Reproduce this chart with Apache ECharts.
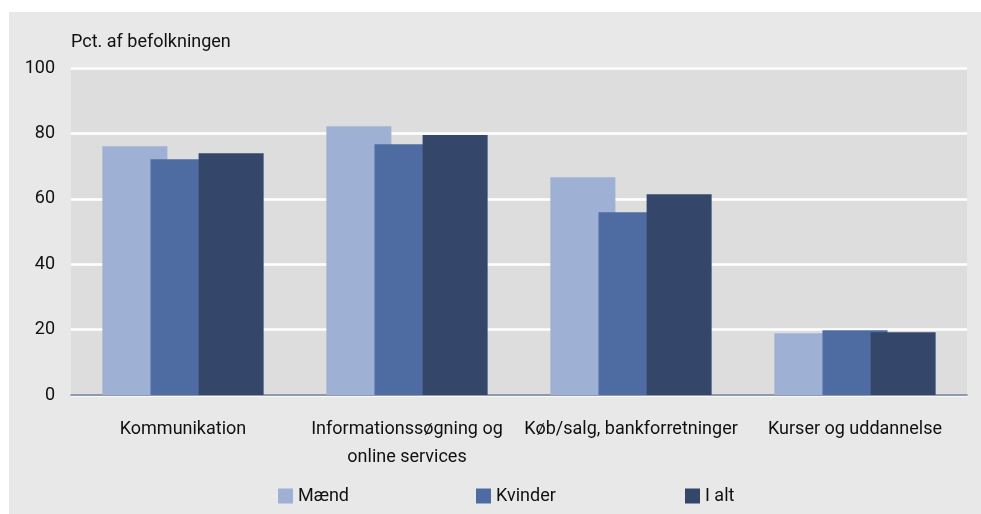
<!DOCTYPE html>
<html>
<head>
	<meta charset="UTF-8">
	<title>Pct. af befolkningen</title>
	<script src="https://cdn.jsdelivr.net/npm/echarts@6/dist/echarts.min.js"></script>
	<style>
		html, body {
			margin: 0;
			padding: 0;
			background: #ffffff;
		}
		#main {
			width: 981px;
			height: 514px;
		}
	</style>
</head>
<body>
<div id="main"></div>

<script>
	// data
	var categories = ['Kommunikation', 'Informationssøgning og\nonline services', 'Køb/salg, bankforretninger', 'Kurser og uddannelse'];
	var seriesNames = ['Mænd', 'Kvinder', 'I alt'];
	var maend = [76.1, 82.2, 66.6, 18.9];
	var kvinder = [72.1, 76.7, 55.9, 19.8];
	var iAlt = [73.9, 79.5, 61.4, 19.2];
	var yTicks = [0, 20, 40, 60, 80, 100];

	var colors = ['#9eb0d4', '#4e6ca2', '#34476b'];
	var font = 'Roboto';

	var myChart = echarts.init(document.getElementById('main'));

	function legendAt(name, left) {
		return {
			data: [name],
			left: left,
			top: 487,
			padding: 0,
			itemWidth: 15,
			itemHeight: 15,
			icon: 'rect',
			selectedMode: false,
			textStyle: { fontFamily: font, fontSize: 18, color: '#111111' }
		};
	}

	var option = {
		backgroundColor: '#ffffff',
		animation: false,
		color: colors,
		graphic: [{
			type: 'rect',
			z: -10,
			silent: true,
			shape: { x: 9, y: 12, width: 972, height: 502 },
			style: { fill: '#e8e8e8' }
		}],
		title: {
			text: 'Pct. af befolkningen',
			left: 71,
			top: 33,
			padding: 0,
			textStyle: { fontFamily: font, fontSize: 18, fontWeight: 'normal', color: '#111111' }
		},
		legend: [
			legendAt(seriesNames[0], 278),
			legendAt(seriesNames[1], 476),
			legendAt(seriesNames[2], 685)
		],
		grid: {
			left: 71,
			right: 14,
			top: 68,
			bottom: 119,
			show: true,
			backgroundColor: '#dddddd',
			borderWidth: 0
		},
		xAxis: {
			type: 'category',
			data: categories,
			axisTick: { show: false },
			axisLine: { lineStyle: { color: '#6b7b98', width: 1.5 } },
			axisLabel: {
				interval: 0,
				margin: 20,
				fontFamily: font,
				fontSize: 18,
				lineHeight: 28,
				color: '#111111'
			}
		},
		yAxis: {
			type: 'value',
			min: yTicks[0],
			max: yTicks[yTicks.length - 1],
			interval: 20,
			axisLine: { show: false },
			axisTick: { show: false },
			splitLine: { lineStyle: { color: '#ffffff', width: 2.5 } },
			axisLabel: {
				margin: 16,
				fontFamily: font,
				fontSize: 18,
				color: '#111111'
			}
		},
		series: [
			{ name: seriesNames[0], type: 'bar', data: maend, barGap: '-26%', barCategoryGap: '28%' },
			{ name: seriesNames[1], type: 'bar', data: kvinder, barGap: '-26%', barCategoryGap: '28%' },
			{ name: seriesNames[2], type: 'bar', data: iAlt, barGap: '-26%', barCategoryGap: '28%' }
		]
	};

	myChart.setOption(option);
</script>
</body>
</html>
